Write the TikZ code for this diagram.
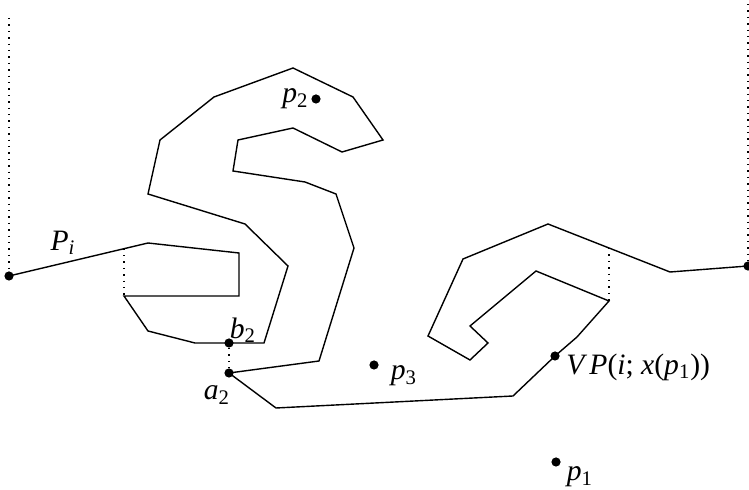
\documentclass[tikz,border=0pt]{standalone}
\usepackage{fontspec}
\setmainfont{Liberation Serif}
\usetikzlibrary{positioning}

\newcommand{\itsub}[2]{\textit{#1}\textsubscript{#2}}

\begin{document}
\begin{tikzpicture}[x=0.5pt, y=-0.5pt,
    pt/.style={circle, fill, inner sep=0pt, minimum size=4.6pt},
    lbl/.style={font=\fontsize{14.8}{17}\selectfont, inner sep=0pt},
    chain/.style={line width=0.7pt, line join=miter},
    vis/.style={line width=0.7pt, dash pattern=on 0.7pt off 2.5pt}
]
    \useasboundingbox (0,0) rectangle (749,490);

    % points on the chain and free points
    \node[pt] (pl) at (9,276)   {};
    \node[pt] (pr) at (748,266) {};
    \node[pt] (b2) at (229,343) {};
    \node[pt] (a2) at (229,373) {};
    \node[pt] (vp) at (555,356) {};
    \node[pt] (p2) at (316,99)  {};
    \node[pt] (p3) at (374,365) {};
    \node[pt] (p1) at (556,462) {};

    \coordinate (tl) at (9,18);
    \coordinate (tr) at (748,4);

    % the chain P_i
    \draw[chain] (pl.center) -- (124,248.7) coordinate (u1) -- (148,243) -- (239,253)
        -- (239,296) -- (124,296) coordinate (u2) -- (148,331) -- (195,343)
        -- (b2.center) -- (264,343) -- (288,266) -- (245,224) -- (148,194)
        -- (160,140) -- (214,97) -- (293,68) -- (353,97) -- (383,140)
        -- (342,152) -- (293,128) -- (238,140) -- (233,171) -- (305,182)
        -- (336,194) -- (354,248) -- (319,361) -- (a2.center) -- (276,408)
        -- (513,396) -- (vp.center) -- (577,337) -- (609,301) coordinate (v2)
        -- (536,271) -- (470,326) -- (488,343) -- (470,360) -- (428,336)
        -- (463,259) -- (548,224) -- (609,248) coordinate (v1) -- (670,272)
        -- (pr.center);

    % visibility segments
    \draw[vis] (tl) -- (pl);
    \draw[vis] (tr) -- (pr);
    \draw[vis] (u1) -- (u2);
    \draw[vis] (b2) -- (a2);
    \draw[vis] (v1) -- (v2);

    % labels
    \node[lbl] (lpi) at (63,243) {\itsub{P}{\textit{i}}};
    \node[lbl] (lb2) at (243,330) {\itsub{b}{2}};
    \node[lbl] (la2) at (217,395) {\itsub{a}{2}};
    \node[lbl, left=1pt of p2] (lp2) {\itsub{p}{2}};
    \node[lbl] (lp3) at (404,376) {\itsub{p}{3}};
    \node[lbl] (lp1) at (580,477) {\itsub{p}{1}};
    \node[lbl, anchor=west] (lvp) at (566,367)
        {\textit{V\,P}(\textit{i}; \textit{x}(\itsub{p}{1}))};
\end{tikzpicture}
\end{document}
